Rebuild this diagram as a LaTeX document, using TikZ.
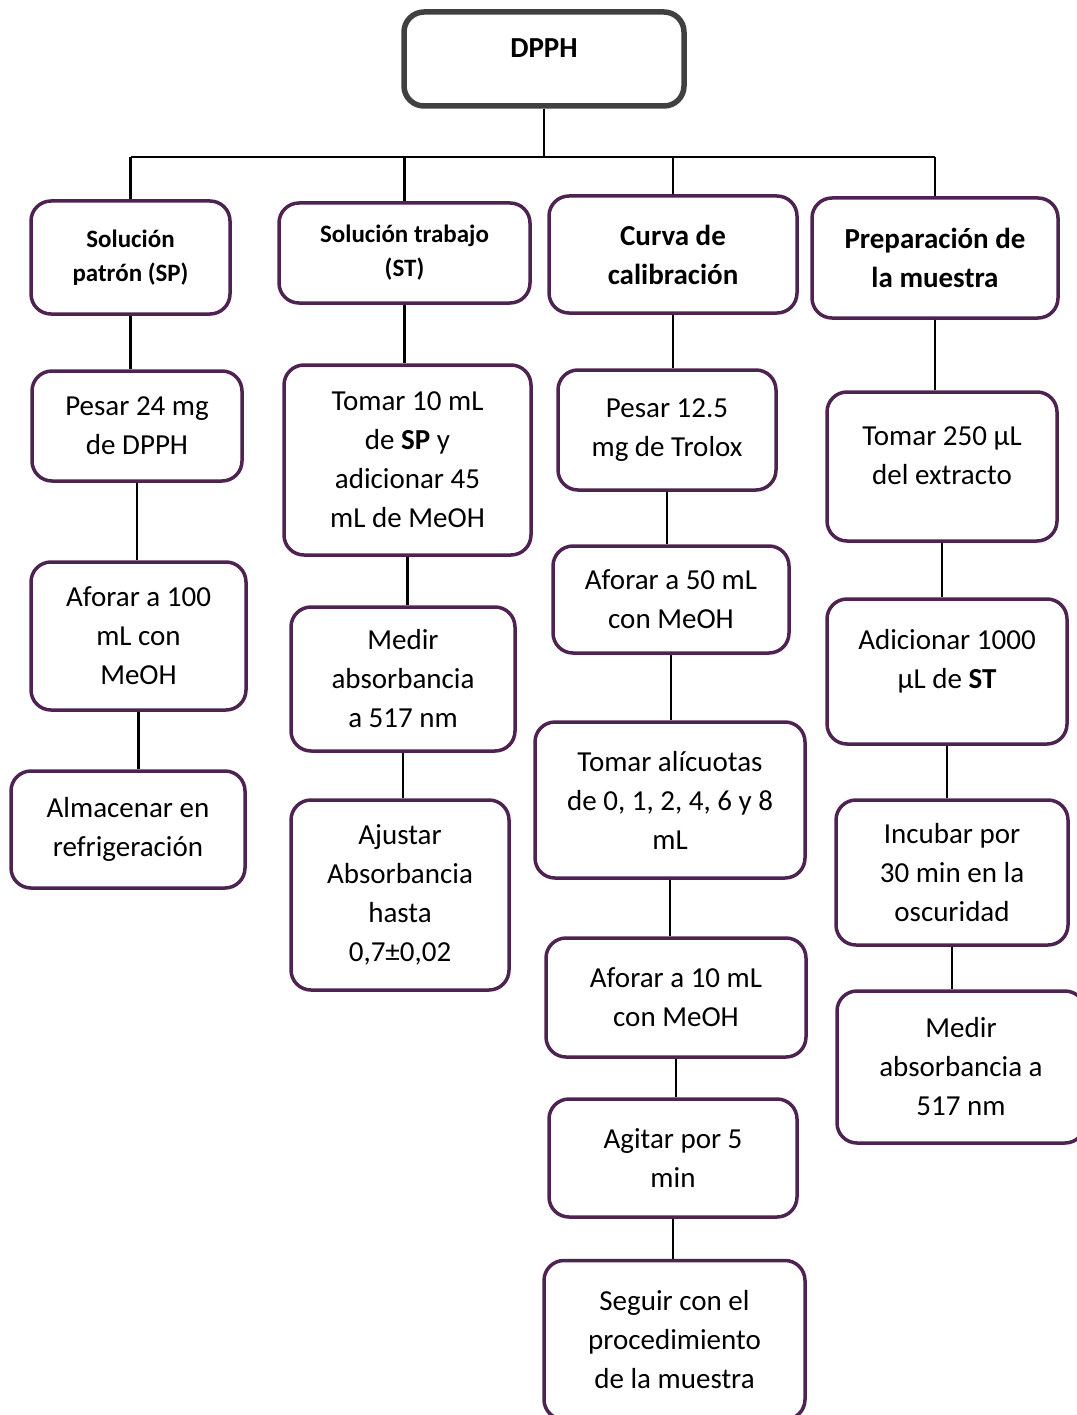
\documentclass[tikz,border=0pt]{standalone}
\usepackage{fontspec}
\setmainfont{Carlito}
\usepackage{xcolor}
\definecolor{boxpurple}{HTML}{4E2352}
\definecolor{boxgray}{HTML}{404040}

\begin{document}
\begin{tikzpicture}[x=1pt,y=-1pt]
		\tikzset{step box/.style = {shape=rectangle,draw=boxpurple,line width=3.5pt,rounded corners=20pt,align=center,fill=white,
				font=\fontsize{29}{39}\selectfont,inner sep=0pt}}
		\tikzset{head box/.style = {step box,font=\bfseries\fontsize{29}{39}\selectfont}}
		\tikzset{small head/.style = {step box,font=\bfseries\fontsize{25}{34}\selectfont}}
		\tikzset{link/.style = {-,line width=2.5pt}}
		\useasboundingbox (0,0) rectangle (1076,1415);
		\node[head box,draw=boxgray,line width=5.5pt,text depth=22pt,minimum width=280pt,minimum height=94pt] (dpph) at (544,59) {DPPH};
		%headers
		\node[small head,minimum width=199pt,minimum height=113pt] (sp) at (130.5,257.5) {Solución\\patrón (SP)};
		\node[small head,minimum width=251pt,minimum height=100pt] (st) at (404.5,253) {Solución trabajo\\(ST)};
		\node[head box,minimum width=248pt,minimum height=117pt] (curva) at (673,254.5) {Curva de\\calibración};
		\node[head box,minimum width=246pt,minimum height=120pt] (prep) at (935,258) {Preparación de\\la muestra};
		%first column
		\node[step box,minimum width=210pt,minimum height=110pt] (pesarA) at (137,426) {Pesar 24 mg\\de DPPH};
		\node[step box,minimum width=215pt,minimum height=148pt] (aforarA) at (138.5,636) {Aforar a 100\\mL con\\MeOH};
		\node[step box,minimum width=234pt,minimum height=117pt] (almacenar) at (128,829.5) {Almacenar en\\refrigeración};
		%second column
		\node[step box,minimum width=247pt,minimum height=190pt] (tomarA) at (407.5,460) {Tomar 10 mL\\de \textbf{SP} y\\adicionar 45\\mL de MeOH};
		\node[step box,minimum width=224pt,minimum height=144pt] (medirA) at (403,679) {Medir\\absorbancia\\a 517 nm};
		\node[step box,minimum width=218pt,minimum height=190pt] (ajustar) at (400,895) {Ajustar\\Absorbancia\\hasta\\0,7±0,02};
		%third column
		\node[step box,minimum width=218pt,minimum height=120pt] (pesarB) at (667,430) {Pesar 12.5\\mg de Trolox};
		\node[step box,minimum width=236pt,minimum height=107pt] (aforarB) at (671,599.5) {Aforar a 50 mL\\con MeOH};
		\node[step box,minimum width=270pt,minimum height=156pt] (alicuotas) at (670,800) {Tomar alícuotas\\de 0, 1, 2, 4, 6 y 8\\mL};
		\node[step box,minimum width=260pt,minimum height=119pt] (aforarC) at (676,997.5) {Aforar a 10 mL\\con MeOH};
		\node[step box,minimum width=248pt,minimum height=118pt] (agitar) at (673,1158) {Agitar por 5\\min};
		\node[step box,minimum width=261pt,minimum height=159pt] (seguir) at (674.5,1340) {Seguir con el\\procedimiento\\de la muestra};
		%fourth column
		\node[step box,text depth=22pt,minimum width=230pt,minimum height=149pt] (tomarB) at (942,466.5) {Tomar 250 µL\\del extracto};
		\node[step box,text depth=26pt,minimum width=240pt,minimum height=145pt] (adicionar) at (947,671.5) {Adicionar 1000\\µL de \textbf{ST}};
		\node[step box,minimum width=232pt,minimum height=145pt] (incubar) at (952,872.5) {Incubar por\\30 min en la\\oscuridad};
		\node[step box,minimum width=248pt,minimum height=152pt] (medirB) at (961,1067) {Medir\\absorbancia a\\517 nm};
		%tree
		\coordinate (bus) at (544,157);
		\draw[link] (dpph.south) -- (bus);
		\draw[link] (sp.north |- bus) -- (prep.north |- bus);
		\foreach \h in {sp,st,curva,prep}
			\draw[link] (\h.north |- bus) -- (\h.north);
		%edges
		\draw[link] (sp) -- (sp.south |- pesarA.north);
		\draw[link] (pesarA) -- (pesarA.south |- aforarA.north);
		\draw[link] (aforarA) -- (aforarA.south |- almacenar.north);
		\draw[link] (st) -- (st.south |- tomarA.north);
		\draw[link] (tomarA) -- (tomarA.south |- medirA.north);
		\draw[link] (medirA) -- (medirA.south |- ajustar.north);
		\draw[link] (curva) -- (curva.south |- pesarB.north);
		\draw[link] (pesarB) -- (pesarB.south |- aforarB.north);
		\draw[link] (aforarB) -- (aforarB.south |- alicuotas.north);
		\draw[link] (alicuotas) -- (alicuotas.south |- aforarC.north);
		\draw[link] (aforarC) -- (aforarC.south |- agitar.north);
		\draw[link] (agitar) -- (agitar.south |- seguir.north);
		\draw[link] (prep) -- (prep.south |- tomarB.north);
		\draw[link] (tomarB) -- (tomarB.south |- adicionar.north);
		\draw[link] (adicionar) -- (adicionar.south |- incubar.north);
		\draw[link] (incubar) -- (incubar.south |- medirB.north);
\end{tikzpicture}
\end{document}
